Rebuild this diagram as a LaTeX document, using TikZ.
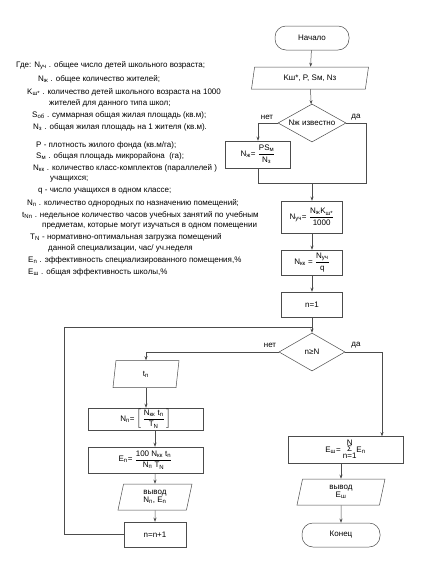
\documentclass[tikz,border=0pt]{standalone}
\usepackage{fontspec}
\setmainfont{Liberation Sans}
\usepackage{amsmath}
\usetikzlibrary{shapes.geometric,arrows.meta}
\newcommand{\tx}[1]{\text{#1}}
\newcommand{\sbs}[1]{\textsubscript{#1}}
\begin{document}
\begin{tikzpicture}[x=1pt,y=-1pt,
  ln/.style={draw=black!70, line width=0.5pt},
  arr/.style={ln, -{Stealth[length=4pt,width=3pt]}},
  box/.style={ln, rectangle, inner sep=1pt, font=\fontsize{8}{9}\selectfont},
  term/.style={ln, rectangle, rounded corners=11pt, inner sep=1pt, font=\fontsize{8}{9}\selectfont},
  para/.style={ln, trapezium, trapezium left angle=70, trapezium right angle=110, trapezium stretches body=true, inner sep=1pt, align=center, font=\fontsize{8}{9}\selectfont},
  dia/.style={ln, diamond, aspect=1.8, inner sep=0pt, font=\fontsize{8}{9}\selectfont},
  lbl/.style={font=\fontsize{8}{9}\selectfont, inner sep=0pt},
  leg/.style={anchor=west, inner sep=0pt, font=\fontsize{8}{9}\selectfont}]
\useasboundingbox (0,0) rectangle (424,573);
\fill[white] (0,0) rectangle (424,573);

% legend
\node[leg] (l1) at (16,66) {Где: N\sbs{уч} . общее число детей школьного возраста;};
\node[leg] (l2) at (38,79) {N\sbs{ж} . общее количество жителей;};
\node[leg] (l3) at (27,92) {K\sbs{ш*} . количество детей школьного возраста на 1000};
\node[leg] (l4) at (49,103) {жителей для данного типа школ;};
\node[leg] (l5) at (32,115) {S\sbs{об} . суммарная общая жилая площадь (кв.м);};
\node[leg] (l6) at (33,127) {N\sbs{з} . общая жилая площадь на 1 жителя (кв.м).};
\node[leg] (l7) at (36,145) {P - плотность жилого фонда (кв.м/га);};
\node[leg] (l8) at (36,156) {S\sbs{м} . общая площадь микрорайона~ (га);};
\node[leg] (l9) at (33,168) {N\sbs{кк} . количество класс-комплектов (параллелей )};
\node[leg] (l10) at (50,179) {учащихся;};
\node[leg] (l11) at (38,191) {q - число учащихся в одном классе;};
\node[leg] (l12) at (27,203) {N\sbs{п} . количество однородных по назначению помещений;};
\node[leg] (l13) at (22,215) {t\sbs{Nn} . недельное количество часов учебных занятий по учебным};
\node[leg] (l14) at (42,226) {предметам, которые могут изучаться в одном помещении};
\node[leg] (l15) at (30,237) {T\sbs{N} - нормативно-оптимальная загрузка помещений};
\node[leg] (l16) at (48,248) {данной специализации, час/ уч.неделя};
\node[leg] (l17) at (28,260) {E\sbs{n} . эффективность специализированного помещения,\%};
\node[leg] (l18) at (28,272) {E\sbs{ш} . общая эффективность школы,\%};

% main column
\node[term, minimum width=74, minimum height=24] (start) at (312,38) {Начало};
\node[para, minimum width=117, minimum height=22] (inp) at (310,78) {Kш*, P, Sм, Nз};
\node[dia, minimum width=68, minimum height=38] (d1) at (312,123) {Nж известно};
\node[box, minimum width=65, minimum height=27] (nz) at (258,154.5) {N\sbs{ж}= $\dfrac{\tx{PS\sbs{м}}}{\tx{N\sbs{з}}}$};
\coordinate (jl) at (258,183);
\coordinate (jr) at (366,183);
\coordinate (j1) at (312,183);
\node[box, minimum width=61, minimum height=32] (nuch) at (312,217) {N\sbs{уч}= $\dfrac{\tx{N\sbs{ж}K\sbs{ш*}}}{\tx{1000}}$};
\node[box, minimum width=61, minimum height=25] (nkk) at (312,262.5) {N\sbs{кк} = $\dfrac{\tx{N\sbs{уч}}}{\tx{q}}$};
\node[box, minimum width=61, minimum height=25] (n1) at (312,304.5) {n=1};
\coordinate (j2) at (312,327);
\node[dia, minimum width=66, minimum height=38] (d2) at (312,352) {n≥N};

% left loop column
\node[para, minimum width=66, minimum height=27] (tn) at (146,374) {t\sbs{n}};
\node[box, minimum width=115, minimum height=22] (nn) at (145.5,419) {N\sbs{п}= $\left[\,\dfrac{\tx{N\sbs{кк} t\sbs{n}}}{\tx{T\sbs{N}}}\,\right]$};
\node[box, minimum width=115, minimum height=26] (en) at (145.5,460) {E\sbs{n}= $\dfrac{\tx{100 N\sbs{кк} t\sbs{n}}}{\tx{N\sbs{п} T\sbs{N}}}$};
\node[para, minimum width=74, minimum height=26] (out1) at (155,497) {вывод\\[-1pt]N\sbs{п}, E\sbs{n}};
\node[box, minimum width=62, minimum height=25] (inc) at (155,534.5) {n=n+1};
\coordinate (lc) at (64,327);

% right column
\node[box, minimum width=115, minimum height=27] (esh) at (345.5,450) {E\sbs{ш}= \begin{tabular}[c]{@{}c@{}}N\\[-2.5pt]Σ\\[-2.5pt]n=1\end{tabular}E\sbs{n}};
\node[para, minimum width=88, minimum height=26] (out2) at (341,492) {вывод\\[-1pt]E\sbs{ш}};
\node[term, minimum width=78, minimum height=24] (end) at (341,535) {Конец};

% labels
\node[lbl] (no1) at (267,117) {нет};
\node[lbl] (yes1) at (356,117) {да};
\node[lbl] (no2) at (270,345) {нет};
\node[lbl] (yes2) at (356,345) {да};

% connectors
\draw[arr] (start) -- (inp);
\draw[arr] (inp) -- (d1);
\draw[arr] (d1.west) -| (nz.north);
\draw[ln] (nz.south) -- (jl) -- (jr) |- (d1.east);
\draw[arr] (j1) -- (nuch.north);
\draw[arr] (nuch) -- (nkk);
\draw[arr] (nkk) -- (n1);
\draw[arr] (n1.south) -- (d2.north);
\draw[ln] (inc.west) -| (lc) -- (j2);
\draw[arr] (d2.west) -| (tn.north);
\draw[arr] (tn.south) -- (tn.south |- nn.north);
\draw[arr] (inc.north |- nn.south) -- (inc.north |- en.north);
\draw[arr] (inc.north |- en.south) -- (out1.north);
\draw[arr] (out1.south) -- (inc.north);
\draw[arr] (d2.east) -| ([xshift=36.5]esh.north);
\draw[arr] (esh.south -| out2.north) -- (out2.north);
\draw[arr] (out2.south) -- (end.north);
\end{tikzpicture}
\end{document}
